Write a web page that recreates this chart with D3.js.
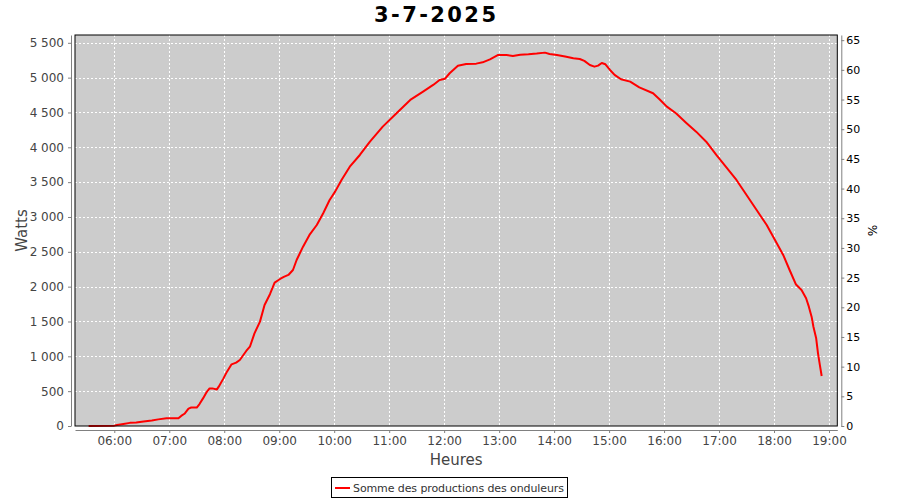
<!DOCTYPE html>
<html>
<head>
<meta charset="utf-8">
<script src="https://cdn.jsdelivr.net/npm/d3@7"></script>
<style>
  body { margin: 0; background: #fff; }
  text { font-family: "DejaVu Sans", sans-serif; }
</style>
</head>
<body>
<div id="chart"></div>
<script>
// time of day and total inverter power (W)
var times = ["05:32","06:00","06:03","06:10","06:17","06:24","06:32","06:41","06:48","06:57",
  "07:10","07:13","07:17","07:21","07:24","07:30","07:33","07:37","07:41","07:44",
  "07:47","07:52","07:54","07:59","08:03","08:08","08:13","08:17","08:24","08:28",
  "08:33","08:39","08:44","08:50","08:55","09:01","09:05","09:10","09:15","09:19",
  "09:26","09:33","09:41","09:48","09:55","10:01","10:08","10:17","10:28","10:39",
  "10:53","11:08","11:23","11:37","11:48","11:55","12:01","12:06","12:15","12:24",
  "12:35","12:42","12:50","12:59","13:08","13:15","13:23","13:32","13:41","13:50",
  "13:55","14:03","14:12","14:21","14:28","14:33","14:39","14:44","14:48","14:52",
  "14:56","15:01","15:06","15:13","15:23","15:33","15:48","15:55","16:03","16:13",
  "16:24","16:35","16:46","16:57","17:08","17:19","17:30","17:41","17:52","18:03",
  "18:10","18:17","18:24","18:30","18:35","18:38","18:41","18:43","18:46","18:48",
  "18:50","18:52"];
var watts = [0,5,15,30,45,50,65,80,95,110,
  110,145,180,250,265,265,315,400,490,540,
  540,525,565,680,780,885,909,947,1077,1138,
  1330,1498,1737,1895,2057,2110,2140,2168,2239,2383,
  2574,2742,2885,3053,3244,3364,3531,3722,3890,4081,
  4297,4488,4680,4799,4895,4967,4985,5063,5172,5197,
  5201,5220,5263,5326,5326,5311,5330,5335,5345,5359,
  5340,5326,5302,5278,5268,5240,5182,5158,5172,5211,
  5192,5110,5039,4977,4943,4860,4776,4690,4584,4488,
  4354,4225,4081,3890,3713,3531,3316,3101,2885,2622,
  2455,2239,2030,1952,1833,1713,1569,1425,1259,1043,
  876,718];

var title = "3-7-2025";
var seriesName = "Somme des productions des onduleurs";
var wattTicks = [0,500,1000,1500,2000,2500,3000,3500,4000,4500,5000,5500];
var pctTicks = [0,5,10,15,20,25,30,35,40,45,50,55,60,65];
var hourTicks = ["06:00","07:00","08:00","09:00","10:00","11:00","12:00","13:00","14:00","15:00","16:00","17:00","18:00","19:00"];

var width = 900, height = 500;
var pLeft = 75, pRight = 837.3, pTop = 35, pBottom = 426;

var parseT = d3.timeParse("%Y-%m-%d %H:%M");
function t(s) { return parseT("2025-07-03 " + s); }

var data = times.map(function(s, i) { return {t: t(s), w: watts[i]}; });

// 6:00 sits at 114.3 and one hour = 55px
var x = d3.scaleTime()
    .domain([new Date(t("06:00").getTime() - 39.3/55*3600e3), new Date(t("19:00").getTime() + 8.3/55*3600e3)])
    .range([pLeft, pRight]);

var y = d3.scaleLinear().domain([0, 5612]).range([pBottom, pTop]);
var y2 = d3.scaleLinear().domain([0, 65.87]).range([pBottom, pTop]);

var fr = d3.formatLocale({decimal: ",", thousands: "\u00a0", grouping: [3], currency: ["", " €"]});
var fmtW = fr.format(",d");

var svg = d3.select("#chart").append("svg")
    .attr("width", width)
    .attr("height", height);

// plot background
svg.append("rect")
    .attr("x", pLeft).attr("y", pTop)
    .attr("width", pRight - pLeft).attr("height", pBottom - pTop)
    .attr("fill", "#cccccc");

// grid
svg.append("g").selectAll("line")
    .data(wattTicks)
    .enter().append("line")
    .attr("x1", pLeft).attr("x2", pRight)
    .attr("y1", function(d) { return Math.round(y(d)) + 0.5; })
    .attr("y2", function(d) { return Math.round(y(d)) + 0.5; })
    .attr("stroke", "#fff")
    .attr("stroke-dasharray", "2,2");

svg.append("g").selectAll("line")
    .data(hourTicks)
    .enter().append("line")
    .attr("y1", pTop).attr("y2", pBottom)
    .attr("x1", function(d) { return Math.round(x(t(d))) + 0.5; })
    .attr("x2", function(d) { return Math.round(x(t(d))) + 0.5; })
    .attr("stroke", "#fff")
    .attr("stroke-dasharray", "2,2");

// the series
var line = d3.line()
    .x(function(d) { return x(d.t); })
    .y(function(d) { return y(d.w); });

svg.append("path")
    .datum(data)
    .attr("d", line)
    .attr("fill", "none")
    .attr("stroke", "#ff0000")
    .attr("stroke-width", 2)
    .attr("stroke-linejoin", "round");

// plot outline
svg.append("rect")
    .attr("x", pLeft).attr("y", pTop)
    .attr("width", pRight - pLeft).attr("height", pBottom - pTop)
    .attr("fill", "none")
    .attr("stroke", "#000");

// axes
function styleAxis(g, col) {
    g.select(".domain").attr("stroke", "#808080");
    g.selectAll(".tick line").attr("stroke", "#808080");
    g.selectAll(".tick text")
        .attr("fill", col)
        .style("font-family", "'DejaVu Sans', sans-serif")
        .style("font-size", "12px");
}

var gy = svg.append("g")
    .attr("transform", "translate(" + (pLeft - 4) + ",0)")
    .call(d3.axisLeft(y).tickValues(wattTicks).tickFormat(fmtW).tickSize(3).tickSizeOuter(0).tickPadding(4));
styleAxis(gy, "#444");

var gy2 = svg.append("g")
    .attr("transform", "translate(" + (pRight + 4) + ",0)")
    .call(d3.axisRight(y2).tickValues(pctTicks).tickSize(3).tickSizeOuter(0).tickPadding(2));
styleAxis(gy2, "#000");
gy2.selectAll(".tick text").style("font-size", "11px");

var gx = svg.append("g")
    .attr("transform", "translate(0," + (pBottom + 4) + ")")
    .call(d3.axisBottom(x).tickValues(hourTicks.map(t)).tickFormat(d3.timeFormat("%H:%M")).tickSize(3).tickSizeOuter(0).tickPadding(3));
styleAxis(gx, "#444");

// title and axis labels
svg.append("text")
    .attr("x", 435).attr("y", 22)
    .attr("text-anchor", "middle")
    .style("font-size", "21px")
    .style("font-weight", "bold")
    .attr("fill", "#000")
    .attr("textLength", 122)
    .text(title);

svg.append("text")
    .attr("transform", "translate(27," + ((pTop + pBottom) / 2) + ") rotate(-90)")
    .attr("text-anchor", "middle")
    .style("font-size", "15px")
    .attr("fill", "#444")
    .text("Watts");

svg.append("text")
    .attr("x", (pLeft + pRight) / 2).attr("y", 465)
    .attr("text-anchor", "middle")
    .style("font-size", "15px")
    .attr("fill", "#444")
    .text("Heures");

svg.append("text")
    .attr("transform", "translate(868," + ((pTop + pBottom) / 2) + ") rotate(90)")
    .attr("text-anchor", "middle")
    .style("font-size", "12px")
    .attr("fill", "#000")
    .text("%");

// legend
var lg = svg.append("g");
lg.append("rect")
    .attr("x", 331.5).attr("y", 477.5)
    .attr("width", 236).attr("height", 20)
    .attr("fill", "#fff")
    .attr("stroke", "#000");
lg.append("line")
    .attr("x1", 335).attr("x2", 350)
    .attr("y1", 488).attr("y2", 488)
    .attr("stroke", "#ff0000")
    .attr("stroke-width", 2);
lg.append("text")
    .attr("x", 353).attr("y", 492)
    .style("font-size", "11px")
    .attr("fill", "#333")
    .attr("textLength", 211)
    .text(seriesName);
</script>
</body>
</html>
